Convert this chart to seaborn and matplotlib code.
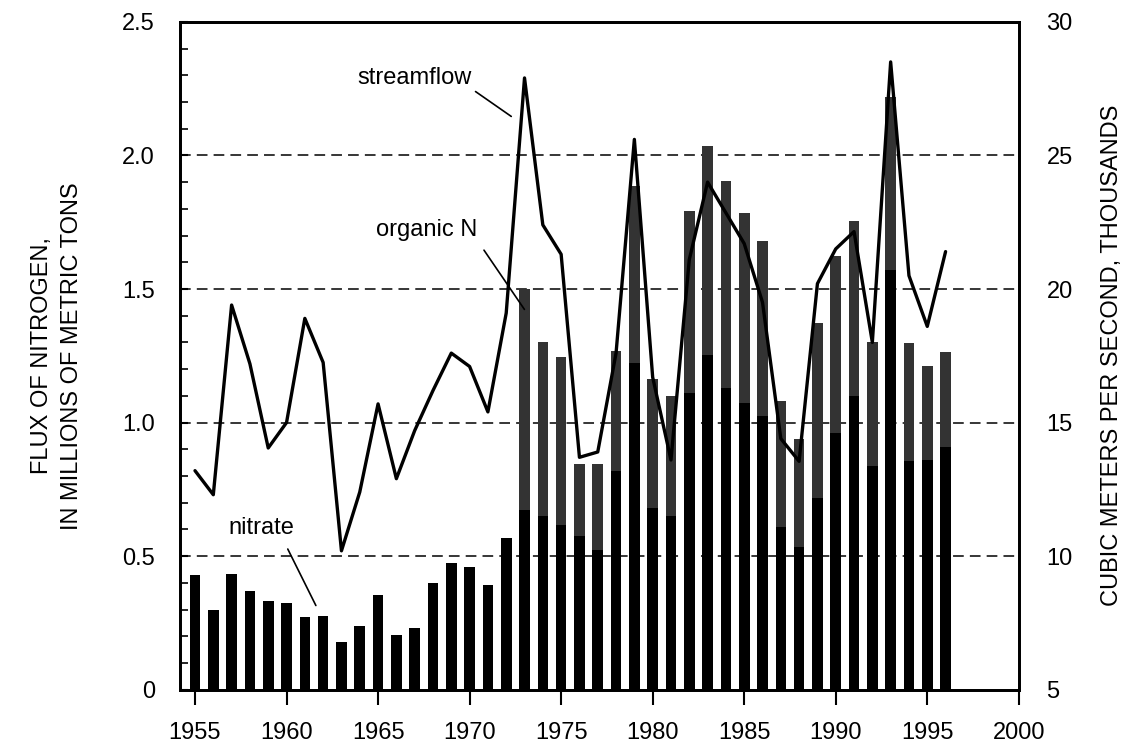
import numpy as np
import pandas as pd
import seaborn as sns
import matplotlib.pyplot as plt
from matplotlib.ticker import MultipleLocator

# Veriler
years = list(range(1955, 1997))
nitrate = [0.43, 0.30, 0.435, 0.37, 0.334, 0.325, 0.272, 0.277, 0.177, 0.237,
           0.356, 0.205, 0.23, 0.398, 0.476, 0.46, 0.392, 0.567,
           0.674, 0.65, 0.617, 0.574, 0.524, 0.817, 1.224, 0.68, 0.649, 1.11,
           1.254, 1.129, 1.073, 1.023, 0.611, 0.536, 0.717, 0.961, 1.098, 0.836,
           1.572, 0.855, 0.861, 0.91]
organic_n = [0.0] * 18 + [0.826, 0.65, 0.63, 0.27, 0.32, 0.45, 0.66, 0.485, 0.45, 0.683,
                          0.783, 0.777, 0.713, 0.655, 0.468, 0.402, 0.655, 0.663, 0.655, 0.464,
                          0.648, 0.442, 0.352, 0.356]
# akim, bin m3/s
streamflow = [13.2, 12.3, 19.4, 17.2, 14.05, 15.0, 18.9, 17.25, 10.2, 12.4,
              15.7, 12.9, 14.7, 16.2, 17.6, 17.1, 15.4, 19.1, 27.9, 22.4,
              21.3, 13.7, 13.9, 17.6, 25.6, 16.7, 13.6, 21.1, 24.0, 22.85,
              21.7, 19.5, 14.4, 13.55, 20.2, 21.5, 22.15, 18.0, 28.5, 20.5,
              18.6, 21.4]
xtick_labels = list(range(1955, 2001, 5))

df = pd.DataFrame({"year": years, "nitrate": nitrate, "organic": organic_n,
                   "flow": streamflow})
df["total"] = df["nitrate"] + df["organic"]

sns.set_style("ticks")
plt.rcParams['font.family'] = ['Liberation Sans', 'DejaVu Sans']
plt.rcParams.update({'font.size': 17, 'text.color': 'black',
                     'axes.labelcolor': 'black', 'xtick.color': 'black',
                     'ytick.color': 'black', 'axes.edgecolor': 'black'})

fig, ax = plt.subplots(figsize=(11.32, 7.53), dpi=100)
fig.subplots_adjust(left=0.159, right=0.900, top=0.971, bottom=0.084)

# yigilmis cubuklar: once toplam (organik N), sonra nitrat
sns.barplot(data=df, x="year", y="total", native_scale=True, width=0.58,
            color="#333333", saturation=1, edgecolor="none", ax=ax, zorder=2)
sns.barplot(data=df, x="year", y="nitrate", native_scale=True, width=0.58,
            color="black", saturation=1, edgecolor="none", ax=ax, zorder=3)

for v in [0.5, 1.0, 1.5, 2.0]:
    ax.axhline(v, color="black", lw=1.1, ls=(0, (7, 4)), zorder=1)

ax.set_xlim(1954.18, 2000)
ax.set_ylim(0, 2.5)
ax.set_xticks(xtick_labels)
ax.set_xticklabels([str(x) for x in xtick_labels])
ax.set_yticks([0, 0.5, 1.0, 1.5, 2.0, 2.5])
ax.set_yticklabels(["0", "0.5", "1.0", "1.5", "2.0", "2.5"])
ax.yaxis.set_minor_locator(MultipleLocator(0.1))
ax.tick_params(axis="x", direction="out", length=11, width=1.5, pad=12)
ax.tick_params(axis="y", which="major", direction="in", length=6, width=1.5, pad=18)
ax.tick_params(axis="y", which="minor", direction="in", length=6, width=1.2)
ax.set_xlabel("")
ax.set_ylabel("FLUX OF NITROGEN,\nIN MILLIONS OF METRIC TONS", labelpad=28,
              linespacing=1.5)

ax2 = ax.twinx()
sns.lineplot(data=df, x="year", y="flow", color="black", lw=2.4, ax=ax2)
ax2.set_ylim(5, 30)
ax2.set_yticks([5, 10, 15, 20, 25, 30])
ax2.tick_params(axis="y", length=0, pad=20)
ax2.set_ylabel("CUBIC METERS PER SECOND, THOUSANDS", labelpad=20)
ax2.set_xlabel("")

for a in (ax, ax2):
    for s in a.spines.values():
        s.set_visible(True)
        s.set_linewidth(2)

# etiketler
ax.text(1967.0, 2.29, "streamflow", ha="center", va="center")
ax.annotate("", xy=(1972.4, 2.14), xytext=(1970.2, 2.245),
            arrowprops=dict(arrowstyle="-", lw=1.2, color="black"))
ax.text(1970.4, 1.72, "organic N", ha="right", va="center")
ax.annotate("", xy=(1973.08, 1.415), xytext=(1970.7, 1.654),
            arrowprops=dict(arrowstyle="-", lw=1.2, color="black"))
ax.text(1958.6, 0.606, "nitrate", ha="center", va="center")
ax.annotate("", xy=(1961.67, 0.306), xytext=(1960.0, 0.536),
            arrowprops=dict(arrowstyle="-", lw=1.2, color="black"))

plt.savefig("out.png", dpi=100)
